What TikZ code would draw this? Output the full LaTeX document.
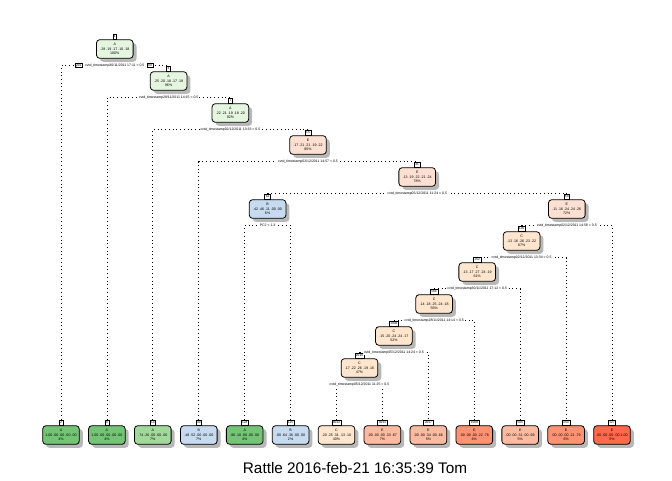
\documentclass[tikz,border=0pt]{standalone}
\usepackage{fontspec}
\setmainfont{Liberation Sans}
\usetikzlibrary{shadows,calc}
\definecolor{gA}{RGB}{229,245,224}
\definecolor{gAA}{RGB}{116,196,118}
\definecolor{gAm}{RGB}{161,217,155}
\definecolor{bB}{RGB}{198,219,239}
\definecolor{oC}{RGB}{254,230,206}
\definecolor{rE}{RGB}{254,224,210}
\definecolor{rEl}{RGB}{252,187,161}
\definecolor{rEm}{RGB}{252,146,114}
\definecolor{rEd}{RGB}{251,106,74}
\newcommand\nodefont{\fontsize{2.7}{3.4}\selectfont}
\newcommand\tagfnt{\fontsize{2.4}{2.6}\selectfont}
\newcommand\splitfnt{\fontsize{2.6}{3}\selectfont}
\newcommand\ndtxt[3]{#1\\#2\\#3}
\tikzset{
 tnode/.style={draw, line width=0.6pt, rounded corners=2.5pt, minimum width=27.5pt, minimum height=14pt,
   inner sep=0pt, align=center, font=\nodefont,
   general shadow={fill=black!28, shadow xshift=2.6pt, shadow yshift=-2.6pt}},
 tagbox/.style={draw, fill=white, line width=0.5pt, inner xsep=0.8pt, inner ysep=0.4pt, minimum height=3.8pt, font=\tagfnt, anchor=south},
 conn/.style={line width=0.6pt, dash pattern=on 0.6pt off 2.2pt},
 slabel/.style={fill=white, inner sep=0.6pt, font=\splitfnt},
 ynbox/.style={draw, fill=white, line width=0.5pt, inner sep=0.6pt, font=\splitfnt}
}
\begin{document}
\begin{tikzpicture}[x=0.75pt,y=-0.75pt]
\useasboundingbox (0,0) rectangle (672,480);
% internal nodes
\node[tnode, fill=gA] (n1) at (114.8,49) {\ndtxt{A}{.28 .19 .17 .16 .18}{100\%}};
\node[tnode, fill=gA] (n2) at (168.6,81) {\ndtxt{A}{.25 .20 .18 .17 .19}{96\%}};
\node[tnode, fill=gA] (n3) at (230.4,113) {\ndtxt{A}{.22 .21 .19 .18 .20}{92\%}};
\node[tnode, fill=rE] (n4) at (308.0,145) {\ndtxt{E}{.17 .21 .21 .19 .22}{85\%}};
\node[tnode, fill=rE] (n5) at (417.2,177) {\ndtxt{E}{.13 .19 .22 .21 .24}{78\%}};
\node[tnode, fill=bB] (n6) at (267.6,209) {\ndtxt{B}{.42 .46 .11 .00 .00}{6\%}};
\node[tnode, fill=rE] (n7) at (566.8,209) {\ndtxt{E}{.11 .16 .24 .24 .26}{72\%}};
\node[tnode, fill=oC] (n8) at (521.6,241) {\ndtxt{C}{.13 .16 .26 .23 .22}{67\%}};
\node[tnode, fill=oC] (n9) at (477.2,272) {\ndtxt{C}{.13 .17 .27 .24 .19}{61\%}};
\node[tnode, fill=oC] (n10) at (434.1,304) {\ndtxt{C}{.14 .18 .25 .24 .18}{56\%}};
\node[tnode, fill=oC] (n11) at (393.9,336) {\ndtxt{C}{.15 .20 .24 .24 .17}{52\%}};
\node[tnode, fill=oC] (n12) at (359.5,368) {\ndtxt{C}{.17 .22 .26 .19 .16}{47\%}};
% leaves
\node[tnode, fill=gAA] (l1) at (61.0,435) {\ndtxt{A}{1.00 .00 .00 .00 .00}{4\%}};
\node[tnode, fill=gAA] (l2) at (106.9,435) {\ndtxt{A}{1.00 .00 .00 .00 .00}{4\%}};
\node[tnode, fill=gAm] (l3) at (152.8,435) {\ndtxt{A}{.74 .26 .00 .00 .00}{7\%}};
\node[tnode, fill=bB] (l4) at (198.8,435) {\ndtxt{B}{.48 .52 .00 .00 .00}{7\%}};
\node[tnode, fill=gAA] (l5) at (244.7,435) {\ndtxt{A}{.90 .10 .00 .00 .00}{4\%}};
\node[tnode, fill=bB] (l6) at (290.6,435) {\ndtxt{B}{.00 .64 .36 .00 .00}{2\%}};
\node[tnode, fill=oC] (l7) at (336.5,435) {\ndtxt{C}{.20 .25 .31 .13 .10}{40\%}};
\node[tnode, fill=rEl] (l8) at (382.4,435) {\ndtxt{E}{.00 .00 .00 .33 .67}{7\%}};
\node[tnode, fill=rEl] (l9) at (428.4,435) {\ndtxt{E}{.00 .00 .34 .00 .66}{5\%}};
\node[tnode, fill=rEm] (l10) at (474.3,435) {\ndtxt{E}{.00 .00 .00 .22 .78}{4\%}};
\node[tnode, fill=rEl] (l11) at (520.2,435) {\ndtxt{E}{.00 .00 .31 .00 .69}{5\%}};
\node[tnode, fill=rEm] (l12) at (566.1,435) {\ndtxt{E}{.00 .00 .00 .21 .79}{6\%}};
\node[tnode, fill=rEd] (l13) at (612.0,435) {\ndtxt{E}{.00 .00 .00 .00 1.00}{5\%}};
% tags
\node[tagbox] (tn1) at (n1.north) {1};
\node[tagbox] (tn2) at (n2.north) {3};
\node[tagbox] (tn3) at (n3.north) {7};
\node[tagbox] (tn4) at (n4.north) {15};
\node[tagbox] (tn5) at (n5.north) {31};
\node[tagbox] (tn6) at (n6.north) {62};
\node[tagbox] (tn7) at (n7.north) {63};
\node[tagbox] (tn8) at (n8.north) {126};
\node[tagbox] (tn9) at (n9.north) {252};
\node[tagbox] (tn10) at (n10.north) {504};
\node[tagbox] (tn11) at (n11.north) {1008};
\node[tagbox] (tn12) at (n12.north) {2016};
\node[tagbox] (tl1) at (l1.north) {2};
\node[tagbox] (tl2) at (l2.north) {6};
\node[tagbox] (tl3) at (l3.north) {14};
\node[tagbox] (tl4) at (l4.north) {30};
\node[tagbox] (tl5) at (l5.north) {124};
\node[tagbox] (tl6) at (l6.north) {125};
\node[tagbox] (tl7) at (l7.north) {4032};
\node[tagbox] (tl8) at (l8.north) {4033};
\node[tagbox] (tl9) at (l9.north) {2017};
\node[tagbox] (tl10) at (l10.north) {1009};
\node[tagbox] (tl11) at (l11.north) {505};
\node[tagbox] (tl12) at (l12.north) {253};
\node[tagbox] (tl13) at (l13.north) {127};
% split coordinates
\foreach \k in {1,...,12} { \coordinate (s\k) at ($(n\k.center)+(0,16.5)$); }
% connectors
\draw[conn] (tl1.north) -- (tl1.north |- s1) -- (tn2.north |- s1) -- (tn2.north);
\draw[conn] (tl2.north) -- (tl2.north |- s2) -- (tn3.north |- s2) -- (tn3.north);
\draw[conn] (tl3.north) -- (tl3.north |- s3) -- (tn4.north |- s3) -- (tn4.north);
\draw[conn] (tl4.north) -- (tl4.north |- s4) -- (tn5.north |- s4) -- (tn5.north);
\draw[conn] (tn6.north) -- (tn6.north |- s5) -- (tn7.north |- s5) -- (tn7.north);
\draw[conn] (tl5.north) -- (tl5.north |- s6) -- (tl6.north |- s6) -- (tl6.north);
\draw[conn] (tn8.north) -- (tn8.north |- s7) -- (tl13.north |- s7) -- (tl13.north);
\draw[conn] (tn9.north) -- (tn9.north |- s8) -- (tl12.north |- s8) -- (tl12.north);
\draw[conn] (tn10.north) -- (tn10.north |- s9) -- (tl11.north |- s9) -- (tl11.north);
\draw[conn] (tn11.north) -- (tn11.north |- s10) -- (tl10.north |- s10) -- (tl10.north);
\draw[conn] (tn12.north) -- (tn12.north |- s11) -- (tl9.north |- s11) -- (tl9.north);
\draw[conn] (tl7.north) -- (tl7.north |- s12) -- (tl8.north |- s12) -- (tl8.north);
% split labels
\node[slabel] (lab1) at (s1) {cvtd\_timestamp30/11/2011 17:11 \textless{} 0.5};
\node[ynbox, anchor=east] (yes) at ([xshift=-1.2pt]lab1.west) {yes};
\node[ynbox, anchor=west] (no) at ([xshift=1.2pt]lab1.east) {no};
\node[slabel] (lab2) at (s2) {cvtd\_timestamp28/11/2011 14:15 \textless{} 0.5};
\node[slabel] (lab3) at (s3) {cvtd\_timestamp02/12/2011 13:33 \textless{} 0.5};
\node[slabel] (lab4) at (s4) {cvtd\_timestamp02/12/2011 14:57 \textless{} 0.5};
\node[slabel] (lab5) at (s5) {cvtd\_timestamp05/12/2011 11:24 \textless{} 0.5};
\node[slabel] (lab6) at (s6) {PC2 \textless{} 1.3};
\node[slabel] (lab7) at (s7) {cvtd\_timestamp02/12/2011 14:58 \textless{} 0.5};
\node[slabel] (lab8) at (s8) {cvtd\_timestamp02/12/2011 13:34 \textless{} 0.5};
\node[slabel] (lab9) at (s9) {cvtd\_timestamp30/11/2011 17:12 \textless{} 0.5};
\node[slabel] (lab10) at (s10) {cvtd\_timestamp28/11/2011 14:14 \textless{} 0.5};
\node[slabel] (lab11) at (s11) {cvtd\_timestamp05/12/2011 14:24 \textless{} 0.5};
\node[slabel] (lab12) at (s12) {cvtd\_timestamp05/12/2011 11:25 \textless{} 0.5};
% title
\node[font=\fontsize{11.5}{13}\selectfont, inner sep=0pt] (title) at (355,468) {Rattle 2016-feb-21 16:35:39 Tom};
\end{tikzpicture}
\end{document}
